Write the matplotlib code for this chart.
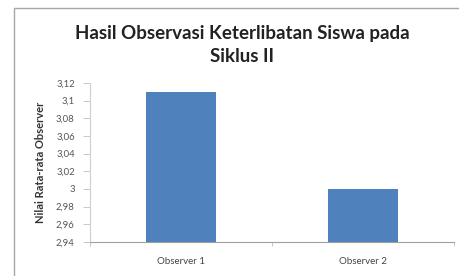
import matplotlib.pyplot as plt
from matplotlib.patches import Rectangle
from matplotlib.ticker import FuncFormatter

plt.rcParams['font.family'] = ['Lato', 'DejaVu Sans']

categories = ['Observer 1', 'Observer 2']
values = [3.11, 3.0]
y_ticks = [2.94, 2.96, 2.98, 3.0, 3.02, 3.04, 3.06, 3.08, 3.1, 3.12]

fig = plt.figure(figsize=(4.6, 2.76), dpi=100)

# chart area border (Excel style, continues past right/bottom edge)
fig.patches.append(Rectangle((14 / 460, -0.05), 1.0, (276 - 8) / 276 + 0.05,
                             transform=fig.transFigure, fill=False,
                             edgecolor='#a6a6a6', linewidth=1.0))

ax = fig.add_axes([90 / 460, 34 / 276, 364 / 460, 159 / 276])
ax.bar(range(len(categories)), values, width=0.39, color='#4F81BD')

ax.set_xlim(-0.5, 1.5)
ax.set_ylim(2.94, 3.12)
ax.set_yticks(y_ticks)
ax.yaxis.set_major_formatter(FuncFormatter(lambda v, p: ('%g' % round(v, 2)).replace('.', ',')))
ax.set_xticks(range(len(categories)))
ax.set_xticklabels(categories)
ax.set_xticks([-0.5, 0.5, 1.5], minor=True)

for s in ['top', 'right']:
    ax.spines[s].set_visible(False)
ax.spines['left'].set_color('#d0d0d0')
ax.spines['bottom'].set_color('#a0a0a0')
ax.spines['left'].set_linewidth(0.8)
ax.spines['bottom'].set_linewidth(0.8)

ax.tick_params(axis='y', labelsize=6.8, labelcolor='#555555', color='#c0c0c0', length=5, width=0.6, pad=6)
ax.tick_params(axis='x', which='major', length=0, labelsize=7, labelcolor='#444444', pad=11)
ax.tick_params(axis='x', which='minor', length=3, color='#c0c0c0', width=0.6)

ax.set_ylabel('Nilai Rata-rata Observer', fontsize=8, fontweight='bold', color='#333333', labelpad=7)

fig.text(242 / 460, 1 - 33 / 276, 'Hasil Observasi Keterlibatan Siswa pada', ha='center', va='center',
         fontsize=13.5, fontweight='bold', color='#222222')
fig.text(242 / 460, 1 - 57 / 276, 'Siklus II', ha='center', va='center',
         fontsize=13.5, fontweight='bold', color='#222222')

fig.savefig('out.png', dpi=100)
